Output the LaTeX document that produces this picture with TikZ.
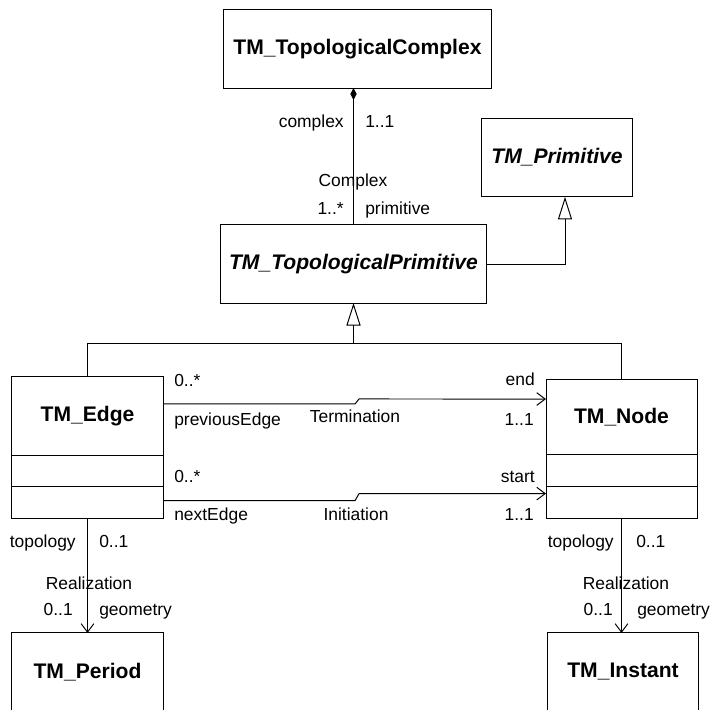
\documentclass[tikz,border=0pt]{standalone}
\usepackage{fontspec}
\setmainfont{Liberation Sans}
\usepackage{tikz}
\usetikzlibrary{arrows.meta, positioning, calc}

\begin{document}
\begin{tikzpicture}[
    x=0.025cm, y=-0.025cm,
    classbox/.style={draw, line width=0.7pt, rectangle, outer sep=0pt, inner sep=0pt, minimum width=107.4pt, minimum height=55.5pt, font=\fontsize{15}{18}\selectfont\bfseries},
    abstractbox/.style={classbox, font=\fontsize{15}{18}\selectfont\bfseries\itshape},
    compbox/.style={draw, line width=0.7pt, rectangle, outer sep=0pt, inner sep=0pt, minimum width=107.4pt, minimum height=22.5pt},
    lbl/.style={font=\fontsize{12.4}{15}\selectfont, inner sep=0pt, text height=9pt, text depth=2.5pt},
    link/.style={line width=0.7pt},
    nav/.style={link, -{Straight Barb[length=6pt, width=9pt]}},
    gen/.style={link, -{Triangle[open, length=16pt, width=10pt, fill=white]}},
    comp/.style={link, -{Diamond[length=8.5pt, width=4.5pt]}}
]
\useasboundingbox (0,0) rectangle (711,711);
\clip (0,0) rectangle (711,709.5);

% Top classes
\node[classbox, minimum width=190pt] (complex) at (357.5,49) {TM\_TopologicalComplex};
\node[abstractbox, minimum width=108pt, minimum height=56pt] (prim) at (557,157.5) {TM\_Primitive};
\node[abstractbox, minimum width=188.5pt] (topoprim) at (353.5,264) {TM\_TopologicalPrimitive};

% Edge and node, with empty compartments
\node[classbox] (edge) at (87.5,416) {TM\_Edge};
\node[compbox, below=0pt of edge] (edgeattr) {};
\node[compbox, below=0pt of edgeattr] (edgeops) {};

\node[classbox, minimum height=54pt] (tmnode) at (621.5,417) {TM\_Node};
\node[compbox, below=0pt of tmnode] (nodeattr) {};
\node[compbox, below=0pt of nodeattr] (nodeops) {};

% Bottom classes
\node[classbox] (period) at (87.5,672) {TM\_Period};
\node[classbox] (instant) at (623,672) {TM\_Instant};

% Composition and generalizations
\draw[comp] (topoprim.north) -- (topoprim.north |- complex.south);
\draw[gen] (topoprim.east) -| ($(prim.south)+(8,0)$);
\coordinate (genjoin) at ($(topoprim.south)+(0,40)$);
\draw[link] (edge.north) |- (genjoin) -| (tmnode.north);
\draw[gen] (genjoin) -- (topoprim.south);

% Associations
\draw[nav] ($(edge.north east)+(0,27)$) -- ++(192,0) -- ++(4,-5) -- ($(tmnode.north west)+(0,20)$);
\draw[nav] ($(edgeops.north east)+(0,14)$) -- ++(192,0) -- ++(4,-7) -- ($(nodeops.north west)+(0,7)$);
\draw[nav] (edgeops.south) -- (period.north);
\draw[nav] (nodeops.south) -- (nodeops.south |- instant.north);

% Labels
\node[lbl, anchor=east] (cplxrole) at (344,123) {complex};
\node[lbl, anchor=west] (cplxmult) at (365,123) {1..1};
\node[lbl] (cplxassoc) at (353,182) {Complex};
\node[lbl, anchor=east] (primmult) at (344,210) {1..*};
\node[lbl, anchor=west] (primrole) at (365,210) {primitive};

\node[lbl, anchor=west] (termfrom) at (174,382) {0..*};
\node[lbl, anchor=west] (termrole) at (174,421) {previousEdge};
\node[lbl] (termassoc) at (355,418) {Termination};
\node[lbl, anchor=east] (termend) at (535,381) {end};
\node[lbl, anchor=east] (termmult) at (534,421) {1..1};

\node[lbl, anchor=west] (initfrom) at (174,478) {0..*};
\node[lbl, anchor=west] (initrole) at (174,516) {nextEdge};
\node[lbl] (initassoc) at (356,516) {Initiation};
\node[lbl, anchor=east] (initstart) at (535,478) {start};
\node[lbl, anchor=east] (initmult) at (534,516) {1..1};

\node[lbl, anchor=east] (etopo) at (76,543) {topology};
\node[lbl, anchor=west] (etopomult) at (99,543) {0..1};
\node[lbl] (ereal) at (89,585) {Realization};
\node[lbl, anchor=east] (egeommult) at (73,611) {0..1};
\node[lbl, anchor=west] (egeom) at (99,611) {geometry};

\node[lbl, anchor=east] (ntopo) at (614,543) {topology};
\node[lbl, anchor=west] (ntopomult) at (636,543) {0..1};
\node[lbl] (nreal) at (626,585) {Realization};
\node[lbl, anchor=east] (ngeommult) at (613,611) {0..1};
\node[lbl, anchor=west] (ngeom) at (637,611) {geometry};

\end{tikzpicture}
\end{document}
